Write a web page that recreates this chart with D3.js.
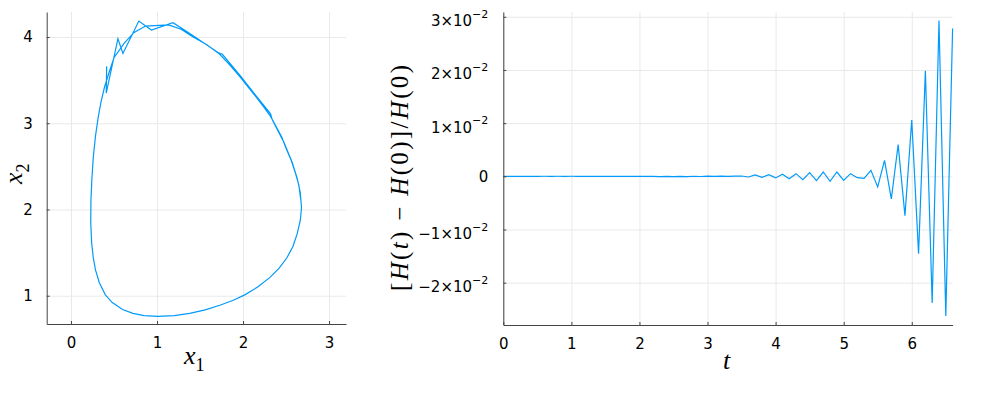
<!DOCTYPE html>
<html lang="en">
  <head>
    <meta charset="utf-8">
    <title>phase portrait and energy error</title>
    <script src="https://d3js.org/d3.v7.min.js"></script>
    <style>
      body{ margin:0; background:#fff; }
      .domain{ stroke:#444; }
      .tick line{ stroke:#444; }
      .grid line{ stroke:#e9e9e9; stroke-width:1; }
      .grid .domain{ display:none; }
      .mathlabel{ font-family:"Liberation Serif", "DejaVu Serif", serif; fill:#000; }
    </style>
  </head>
  <body>
<svg width="1000" height="400"></svg>
  <script>
    // trajectory in the (x1, x2) plane
    var x1 = [2.67,2.65,2.61,2.56,2.50,2.45,2.38,2.32,2.24,2.156,2.06,1.963,1.85,1.73,1.58,1.42,1.28,1.135,
              0.866,0.73,0.62,0.50,0.44,0.39,0.35,0.317,0.285,0.26,0.243,0.232,0.23,0.24,0.258,0.285,0.33,
              0.40,0.48,0.60,0.72,0.85,1.01,1.20,1.38,1.56,1.73,1.88,2.02,2.17,2.31,2.42,2.51,2.58,2.63,2.665,
              2.68,2.665,2.63,2.57,2.47,2.34,2.32,2.15,1.96,1.76,1.71,1.35,1.186,0.935,0.789,0.604,0.546,0.41,0.415];
    var x2 = [2.12,2.28,2.42,2.57,2.71,2.84,2.97,3.08,3.19,3.30,3.42,3.54,3.67,3.80,3.91,4.00,4.09,4.14,
              4.127,4.05,3.93,3.76,3.58,3.42,3.25,3.07,2.85,2.61,2.35,2.10,1.85,1.62,1.45,1.30,1.15,
              1.01,0.92,0.84,0.795,0.77,0.76,0.77,0.795,0.835,0.89,0.945,1.01,1.10,1.21,1.32,1.44,1.57,1.72,1.87,
              2.02,2.20,2.36,2.55,2.79,3.04,3.11,3.32,3.56,3.80,3.82,4.06,4.165,4.08,4.185,3.81,3.98,3.35,3.66];

    // relative energy error over time, right panel
    var tValues = [0.0,0.1,0.2,0.3,0.4,0.5,0.6,0.7,0.8,0.9,1.0,1.1,1.2,1.3,1.4,1.5,1.6,1.7,1.8,1.9,
                   2.0,2.1,2.2,2.3,2.4,2.5,2.6,2.7,2.8,2.9,3.0,3.1,3.2,3.3,3.4,3.5,3.6,3.7,3.8,3.9,
                   4.0,4.1,4.2,4.3,4.4,4.5,4.6,4.7,4.8,4.9,5.0,5.1,5.2,5.3,5.4,5.5,5.6,5.7,5.8,5.9,
                   6.0,6.1,6.2,6.3,6.4,6.5,6.6];
    var hErr = [0,0,0,0,0,0,0.00001,0,0.00001,0,0.00001,0,0,0,-0.00001,0,-0.00002,0,-0.00002,0,
                -0.00001,0,-0.00002,-0.00004,0,-0.00005,0,-0.00005,0.00001,-0.00003,0.00002,-0.00002,0.00002,-0.00002,0.00003,0.00006,-0.00013,0.00025,-0.0002,0.0003,
                -0.0003,0.00038,-0.00044,0.0005,-0.00063,0.00069,-0.00081,0.00081,-0.00094,0.00081,-0.00075,0.0005,-0.00025,-0.00038,0.00113,-0.002,0.003,-0.00426,0.00595,-0.0074,
                0.0106,-0.01454,0.01986,-0.0238,0.0293,-0.02625,0.0278];

    // tick labels
    var leftXTicks = [0,1,2,3];
    var leftYTicks = [1,2,3,4];
    var rightXTicks = [0,1,2,3,4,5,6];
    var rightYTicks = [-0.02,-0.01,0,0.01,0.02,0.03];
    var rightYMant = ["\u22122\u00d710","\u22121\u00d710","0","1\u00d710","2\u00d710","3\u00d710"];
    var rightYExp = ["\u22122","\u22122","","\u22122","\u22122","\u22122"];

    var lineColor = "#009afa";
    var svg = d3.select("svg");

    function styleTicks(g){
      g.attr("font-family","DejaVu Sans").attr("font-size",15);
      g.selectAll(".tick text").attr("fill","#000").attr("font-size",15);
    }

    // ---------- left panel ----------
    var L = {left:46.7, right:346, top:12, bottom:324};
    var xs = d3.scaleLinear().domain([-0.282,3.197]).range([L.left,L.right]);
    var ys = d3.scaleLinear().domain([0.672,4.29]).range([L.bottom,L.top]);

    svg.append("g").attr("class","grid")
       .attr("transform","translate(0,"+L.bottom+")")
       .call(d3.axisBottom(xs).tickValues(leftXTicks).tickSize(-(L.bottom-L.top)).tickFormat(""));
    svg.append("g").attr("class","grid")
       .attr("transform","translate("+L.left+",0)")
       .call(d3.axisLeft(ys).tickValues(leftYTicks).tickSize(-(L.right-L.left)).tickFormat(""));

    var pts = x1.map(function(d,i){ return [d,x2[i]]; });
    svg.append("path")
       .datum(pts)
       .attr("fill","none")
       .attr("stroke",lineColor)
       .attr("stroke-width",1.2)
       .attr("d",d3.line().x(function(d){return xs(d[0]);}).y(function(d){return ys(d[1]);}));

    svg.append("g")
       .attr("transform","translate(0,"+L.bottom+")")
       .call(d3.axisBottom(xs).tickValues(leftXTicks).tickSizeInner(-3).tickSizeOuter(0).tickPadding(13).tickFormat(d3.format("d")))
       .call(styleTicks);
    svg.append("g")
       .attr("transform","translate("+L.left+",0)")
       .call(d3.axisLeft(ys).tickValues(leftYTicks).tickSizeInner(-3).tickSizeOuter(0).tickPadding(14).tickFormat(d3.format("d")))
       .call(styleTicks);

    var xl = svg.append("text").attr("class","mathlabel")
       .attr("x",184).attr("y",364).attr("font-size",26);
    xl.append("tspan").attr("font-style","italic").text("x");
    xl.append("tspan").attr("font-size",18).attr("dy",7).text("1");

    var yl = svg.append("text").attr("class","mathlabel")
       .attr("transform","translate(22,184) rotate(-90)").attr("font-size",26);
    yl.append("tspan").attr("font-style","italic").text("x");
    yl.append("tspan").attr("font-size",18).attr("dy",7).text("2");

    // ---------- right panel ----------
    var R = {left:503.3, right:952.6, top:12, bottom:325};
    var ts = d3.scaleLinear().domain([0,6.6]).range([R.left,R.right]);
    var hs = d3.scaleLinear().domain([-0.02796,0.0309]).range([R.bottom,R.top]);

    svg.append("g").attr("class","grid")
       .attr("transform","translate(0,"+R.bottom+")")
       .call(d3.axisBottom(ts).tickValues(rightXTicks).tickSize(-(R.bottom-R.top)).tickFormat(""));
    svg.append("g").attr("class","grid")
       .attr("transform","translate("+R.left+",0)")
       .call(d3.axisLeft(hs).tickValues(rightYTicks).tickSize(-(R.right-R.left)).tickFormat(""));

    svg.append("path")
       .datum(tValues)
       .attr("fill","none")
       .attr("stroke",lineColor)
       .attr("stroke-width",1.2)
       .attr("d",d3.line().x(function(d){return ts(d);}).y(function(d,i){return hs(hErr[i]);}));

    svg.append("g")
       .attr("transform","translate(0,"+R.bottom+")")
       .call(d3.axisBottom(ts).tickValues(rightXTicks).tickSizeInner(-3).tickSizeOuter(0).tickPadding(13).tickFormat(d3.format("d")))
       .call(styleTicks);
    var ry = svg.append("g")
       .attr("transform","translate("+R.left+",0)")
       .call(d3.axisLeft(hs).tickValues(rightYTicks).tickSizeInner(-3).tickSizeOuter(0).tickPadding(15).tickFormat(""))
       .call(styleTicks);
    ry.selectAll(".tick text").each(function(d,i){
      var el = d3.select(this);
      el.text(null);
      if(rightYExp[i]===""){
        el.attr("dy","0.32em").text(rightYMant[i]);
      }else{
        el.attr("dy","0.6em");
        el.append("tspan").text(rightYMant[i]);
        el.append("tspan").attr("font-size",11).attr("dy","-0.75em").text(rightYExp[i]);
      }
    });

    svg.append("text").attr("class","mathlabel")
       .attr("x",723).attr("y",369).attr("font-size",26).attr("font-style","italic").text("t");

    // y label of right panel: italic symbols, upright delimiters and digits
    var hl = svg.append("text").attr("class","mathlabel")
       .attr("transform","translate(408,178) rotate(-90)")
       .attr("text-anchor","middle")
       .attr("font-size",25)
       .attr("textLength",226).attr("lengthAdjust","spacing");
    var parts = [["[",0],["H",1],["(",0],["t",1],[")",0],[" \u2212 ",0],["H",1],["(0)]/",0],["H",1],["(0)",0]];
    parts.forEach(function(p){
      hl.append("tspan").attr("font-style",p[1]?"italic":"normal").text(p[0]);
    });
  </script>
  </body>
</html>
